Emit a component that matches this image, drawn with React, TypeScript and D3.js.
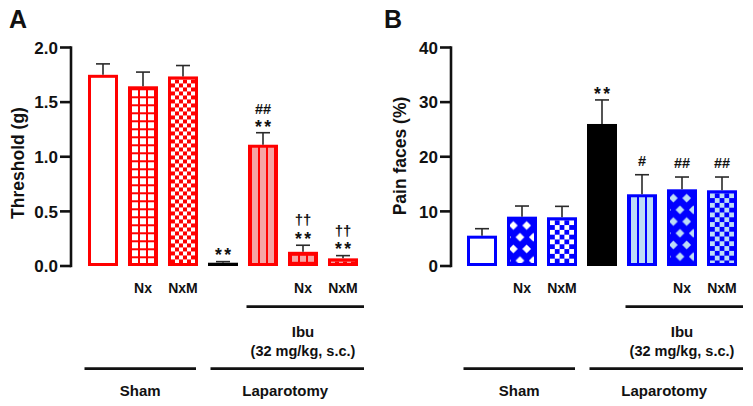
import React from 'react';
import * as d3 from 'd3';

// Treatment groups, in bar order
const groups = ['Sham', 'Sham Nx', 'Sham NxM', 'Lap', 'Lap Ibu', 'Lap Ibu Nx', 'Lap Ibu NxM'];
const subLabels = ['', 'Nx', 'NxM', '', '', 'Nx', 'NxM'];

// Panel A: mechanical threshold (g), mean and SEM
const thresholdMean = [1.75, 1.645, 1.735, 0.03, 1.11, 0.13, 0.07];
const thresholdSem = [0.1, 0.13, 0.1, 0.01, 0.11, 0.06, 0.025];
const thresholdSig = ['', '', '', '**', '**|##', '**|††', '**|††'];
const thresholdTicks = [0, 0.5, 1, 1.5, 2];

// Panel B: pain faces (%), mean and SEM
const painMean = [5.55, 9.03, 8.92, 26.0, 13.13, 14.04, 13.86];
const painSem = [1.28, 1.95, 2.0, 4.4, 3.58, 2.25, 2.43];
const painSig = ['', '', '', '**', '#', '##', '##'];
const painTicks = [0, 10, 20, 30, 40];

const FONT = '"Liberation Sans", Arial, sans-serif';
const INK = '#111';
const Y0 = 266;
const YTOP = 47.5;
const BORDER = 3;

type PanelProps = {
  id: string;
  letter: string;
  letterX: number;
  axisX: number;
  xRange: [number, number];
  domainMax: number;
  ticks: number[];
  fmt: (v: number) => string;
  title: string;
  titleX: number;
  titleY: number;
  color: string;
  light: string;
  kinds: string[];
  means: number[];
  sems: number[];
  sig: string[];
};

function patternFor(kind: string, id: string, ox: number, oy: number, color: string, light: string) {
  const t = `translate(${ox},${oy})`;
  if (kind === 'grid' || kind === 'gridLight') {
    const cell = kind === 'grid' ? '#fff' : light;
    return (
      <pattern key={id} id={id} width={8} height={8} patternUnits="userSpaceOnUse" patternTransform={t}>
        <rect width={8} height={8} fill={color} />
        <rect x={1} y={1} width={6} height={6} fill={cell} />
      </pattern>
    );
  }
  if (kind === 'checker' || kind === 'checkerLight') {
    const s = color === '#ff0000' ? 4 : 4.8;
    const cell = kind === 'checker' ? '#fff' : light;
    return (
      <pattern key={id} id={id} width={2 * s} height={2 * s} patternUnits="userSpaceOnUse" patternTransform={t}>
        <rect width={2 * s} height={2 * s} fill={color} />
        <rect x={0} y={0} width={s} height={s} fill={cell} />
        <rect x={s} y={s} width={s} height={s} fill={cell} />
      </pattern>
    );
  }
  if (kind === 'stripes') {
    return (
      <pattern key={id} id={id} width={8} height={8} patternUnits="userSpaceOnUse" patternTransform={t}>
        <rect width={8} height={8} fill={light} />
        <rect x={0} width={1} height={8} fill={color} />
        <rect x={7} width={1} height={8} fill={color} />
      </pattern>
    );
  }
  if (kind === 'diamond' || kind === 'diamondLight') {
    const w = 13.33;
    const h = 23.4;
    const r = 4.4;
    const cell = kind === 'diamond' ? '#fff' : light;
    const centers: [number, number][] = [];
    [[3.33, 5.85], [10, 17.55]].forEach(([cx, cy]) => {
      for (const dx of [-w, 0, w]) for (const dy of [-h, 0, h]) centers.push([cx + dx, cy + dy]);
    });
    return (
      <pattern key={id} id={id} width={w} height={h} patternUnits="userSpaceOnUse" patternTransform={t}>
        <rect width={w} height={h} fill={color} />
        {centers.map(([cx, cy], i) => (
          <path key={i} d={`M${cx},${cy - r}L${cx + r},${cy}L${cx},${cy + r}L${cx - r},${cy}Z`} fill={cell} />
        ))}
      </pattern>
    );
  }
  return null;
}

function sigText(s: string, cx: number, errTop: number, line: number, key: string) {
  // vertical glyph centre of each symbol line, then baseline from glyph metrics
  let center: number;
  let size: number;
  let txt = s;
  let baseOff: number;
  if (s === '**') {
    center = errTop - 10 - line * 14;
    size = 17.5;
    txt = '**';
    baseOff = 9.8;
  } else if (s.startsWith('#')) {
    center = errTop - (line === 0 ? 14.3 : 23.7);
    size = 14.5;
    baseOff = 5.2;
  } else {
    center = errTop - 24.3;
    size = 15;
    baseOff = 4.4;
  }
  return (
    <text
      key={key}
      x={cx}
      y={center + baseOff}
      textAnchor="middle"
      fontSize={size}
      fontWeight="bold"
      fill={INK}
      letterSpacing={s === '**' ? 2.5 : 0}
      dx={s === '**' ? 1.25 : 0}
    >
      {txt}
    </text>
  );
}

function Panel(p: PanelProps) {
  const x = d3.scaleBand<string>().domain(groups).range(p.xRange).paddingInner(0.25).paddingOuter(0.125);
  const y = d3.scaleLinear().domain([0, p.domainMax]).range([Y0, YTOP]);
  const bw = x.bandwidth();
  const xs = groups.map((g) => x(g) as number);
  const cxs = xs.map((v) => v + bw / 2);

  const ibuX1 = xs[4] - 1.5;
  const ibuX2 = xs[6] + bw + 6;
  const shamX1 = xs[0] - 3.5;
  const shamX2 = xs[2] + bw - 2;
  const lapX1 = xs[3] + 2.5;
  const lapX2 = xs[6] + bw + 6;

  return (
    <g>
      <defs>
        {p.kinds.map((k, i) =>
          patternFor(k, `${p.id}-${i}`, xs[i] + BORDER, y(p.means[i]) + BORDER, p.color, p.light)
        )}
      </defs>

      <text x={p.letterX} y={28} fontSize={25} fontWeight="bold" fill={INK}>
        {p.letter}
      </text>

      {/* y axis */}
      <line x1={p.axisX} x2={p.axisX} y1={YTOP - 1.2} y2={Y0 + 1.2} stroke={INK} strokeWidth={2.6} />
      {p.ticks.map((t) => (
        <g key={t}>
          <line x1={p.axisX - 11} x2={p.axisX} y1={y(t)} y2={y(t)} stroke={INK} strokeWidth={2.6} />
          <text x={p.axisX - 13} y={y(t) + 6.2} textAnchor="end" fontSize={17} fontWeight="bold" fill={INK}>
            {p.fmt(t)}
          </text>
        </g>
      ))}
      <text
        transform={`translate(${p.titleX},${p.titleY}) rotate(-90)`}
        textAnchor="middle"
        fontSize={17.5}
        fontWeight="bold"
        fill={INK}
      >
        {p.title}
      </text>

      {/* bars: outer border colour, inner fill inset */}
      {groups.map((g, i) => {
        const top = y(p.means[i]);
        const h = Y0 - top;
        const kind = p.kinds[i];
        const edge = kind === 'black' ? '#000' : p.color;
        const innerH = Math.max(0, h - 2 * BORDER);
        let fill = '#fff';
        if (kind === 'black') fill = '#000';
        else if (kind !== 'open') fill = `url(#${p.id}-${i})`;
        return (
          <g key={g}>
            <rect x={xs[i]} y={top} width={bw} height={h} fill={edge} />
            {innerH > 0 && (
              <rect x={xs[i] + BORDER} y={top + BORDER} width={bw - 2 * BORDER} height={innerH} fill={fill} />
            )}
          </g>
        );
      })}

      {/* error bars (upper SEM) */}
      {groups.map((g, i) => {
        const a = y(p.means[i]);
        const b = y(p.means[i] + p.sems[i]);
        return (
          <g key={g} stroke="#2a2a2a" strokeWidth={1.6}>
            <line x1={cxs[i]} x2={cxs[i]} y1={a} y2={b} />
            <line x1={cxs[i] - 7} x2={cxs[i] + 7} y1={b} y2={b} />
          </g>
        );
      })}

      {/* significance marks */}
      {groups.map((g, i) => {
        if (!p.sig[i]) return null;
        const errTop = y(p.means[i] + p.sems[i]);
        return p.sig[i].split('|').map((s, line) => sigText(s, cxs[i], errTop, line, `${g}-${line}`));
      })}

      {/* group labels */}
      {subLabels.map((s, i) =>
        s ? (
          <text key={i} x={cxs[i]} y={292.5} textAnchor="middle" fontSize={14} fontWeight="bold" fill={INK}>
            {s}
          </text>
        ) : null
      )}
      <line x1={ibuX1} x2={ibuX2} y1={306.7} y2={306.7} stroke={INK} strokeWidth={2.8} />
      <text x={cxs[5]} y={337} textAnchor="middle" fontSize={15} fontWeight="bold" fill={INK}>
        Ibu
      </text>
      <text x={cxs[5]} y={355.5} textAnchor="middle" fontSize={14.5} fontWeight="bold" fill={INK}>
        (32 mg/kg, s.c.)
      </text>
      <line x1={shamX1} x2={shamX2} y1={368.7} y2={368.7} stroke={INK} strokeWidth={2.8} />
      <line x1={lapX1} x2={lapX2} y1={368.7} y2={368.7} stroke={INK} strokeWidth={2.8} />
      <text x={(shamX1 + shamX2) / 2} y={395.5} textAnchor="middle" fontSize={15} fontWeight="bold" fill={INK}>
        Sham
      </text>
      <text x={(lapX1 + lapX2) / 2 - 2} y={395.5} textAnchor="middle" fontSize={15} fontWeight="bold" fill={INK}>
        Laparotomy
      </text>
    </g>
  );
}

export default function App() {
  return (
    <svg
      width={753}
      height={406}
      viewBox="0 0 753 406"
      style={{ position: 'absolute', left: 0, top: 0, background: '#fff', fontFamily: FONT }}
    >
      <Panel
        id="thr"
        letter="A"
        letterX={9}
        axisX={71}
        xRange={[83, 363]}
        domainMax={2}
        ticks={thresholdTicks}
        fmt={(v) => d3.format('.1f')(v)}
        title="Threshold (g)"
        titleX={23.5}
        titleY={163}
        color="#ff0000"
        light="#f6a4a4"
        kinds={['open', 'grid', 'checker', 'black', 'stripes', 'gridLight', 'checkerLight']}
        means={thresholdMean}
        sems={thresholdSem}
        sig={thresholdSig}
      />
      <Panel
        id="pain"
        letter="B"
        letterX={384}
        axisX={451}
        xRange={[462, 742]}
        domainMax={40}
        ticks={painTicks}
        fmt={(v) => String(v)}
        title="Pain faces (%)"
        titleX={406}
        titleY={156}
        color="#0000ff"
        light="#bcdcf6"
        kinds={['open', 'diamond', 'checker', 'black', 'stripes', 'diamondLight', 'checkerLight']}
        means={painMean}
        sems={painSem}
        sig={painSig}
      />
    </svg>
  );
}
